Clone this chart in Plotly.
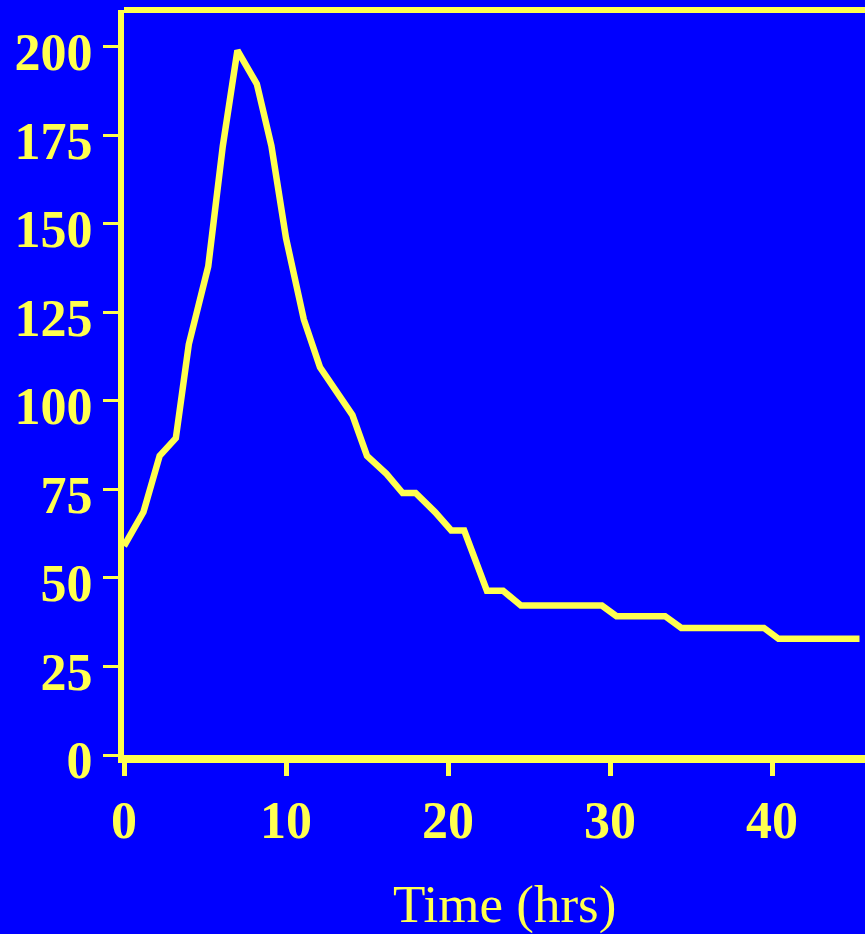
import plotly.graph_objects as go

# time (hrs) and level
hours = [0, 1.2, 2.2, 3.2, 4.0, 5.2, 6.1, 7.0, 8.2, 9.1, 10.0, 11.1, 12.1, 13.1,
         14.1, 15.0, 16.2, 17.2, 18.0, 19.2, 20.2, 21.0, 22.4, 23.4, 24.5, 29.5,
         30.4, 33.4, 34.4, 39.5, 40.4, 45.4]
level = [59, 68.6, 84.5, 89.5, 116, 138, 172, 199, 189.5, 172, 146, 123, 109.5, 103,
         96, 84.5, 79.4, 74, 74, 68.6, 63.4, 63.4, 46.4, 46.4, 42.2, 42.2,
         39.2, 39.2, 35.9, 35.9, 32.8, 32.8]

x_ticks = [0, 10, 20, 30, 40]
y_ticks = [0, 25, 50, 75, 100, 125, 150, 175, 200]

blue = "#0000FF"
yellow = "#FFFF4F"

fig = go.Figure()
fig.add_trace(go.Scatter(x=hours, y=level, mode="lines",
                         line=dict(color=yellow, width=6.5), showlegend=False))

fig.update_layout(
    width=865, height=934,
    paper_bgcolor=blue, plot_bgcolor=blue,
    margin=dict(l=124, r=0, t=10, b=179),
    font=dict(family="Liberation Serif", color=yellow),
)
fig.update_xaxes(
    range=[0, 45.74], tickvals=x_ticks, showgrid=False, zeroline=False,
    showline=True, linecolor=yellow, linewidth=8,
    ticks="outside", ticklen=13, tickwidth=5, tickcolor=yellow,
    tickfont=dict(size=52, family="Liberation Serif", weight="bold", color=yellow),
)
fig.update_yaxes(
    range=[0, 210.4], tickvals=y_ticks, showgrid=False, zeroline=False,
    showline=True, linecolor=yellow, linewidth=6,
    ticks="outside", ticklen=15, tickwidth=3, tickcolor=yellow,
    ticklabelshift=5,
    tickfont=dict(size=52, family="Liberation Serif", weight="bold", color=yellow),
)
# top border of the frame
fig.add_shape(type="line", xref="paper", yref="paper", x0=0, x1=1, y0=1, y1=1,
              line=dict(color=yellow, width=6))
fig.add_annotation(text="Time (hrs)", xref="paper", yref="paper", x=0.513, y=-0.2,
                   xanchor="center", yanchor="middle", showarrow=False,
                   font=dict(size=53, family="Liberation Serif", color=yellow))

# drop the page's default body margin so the figure fills the window
fig.write_html("out.html", config={"displayModeBar": False},
               post_script="document.body.style.margin='0';")
